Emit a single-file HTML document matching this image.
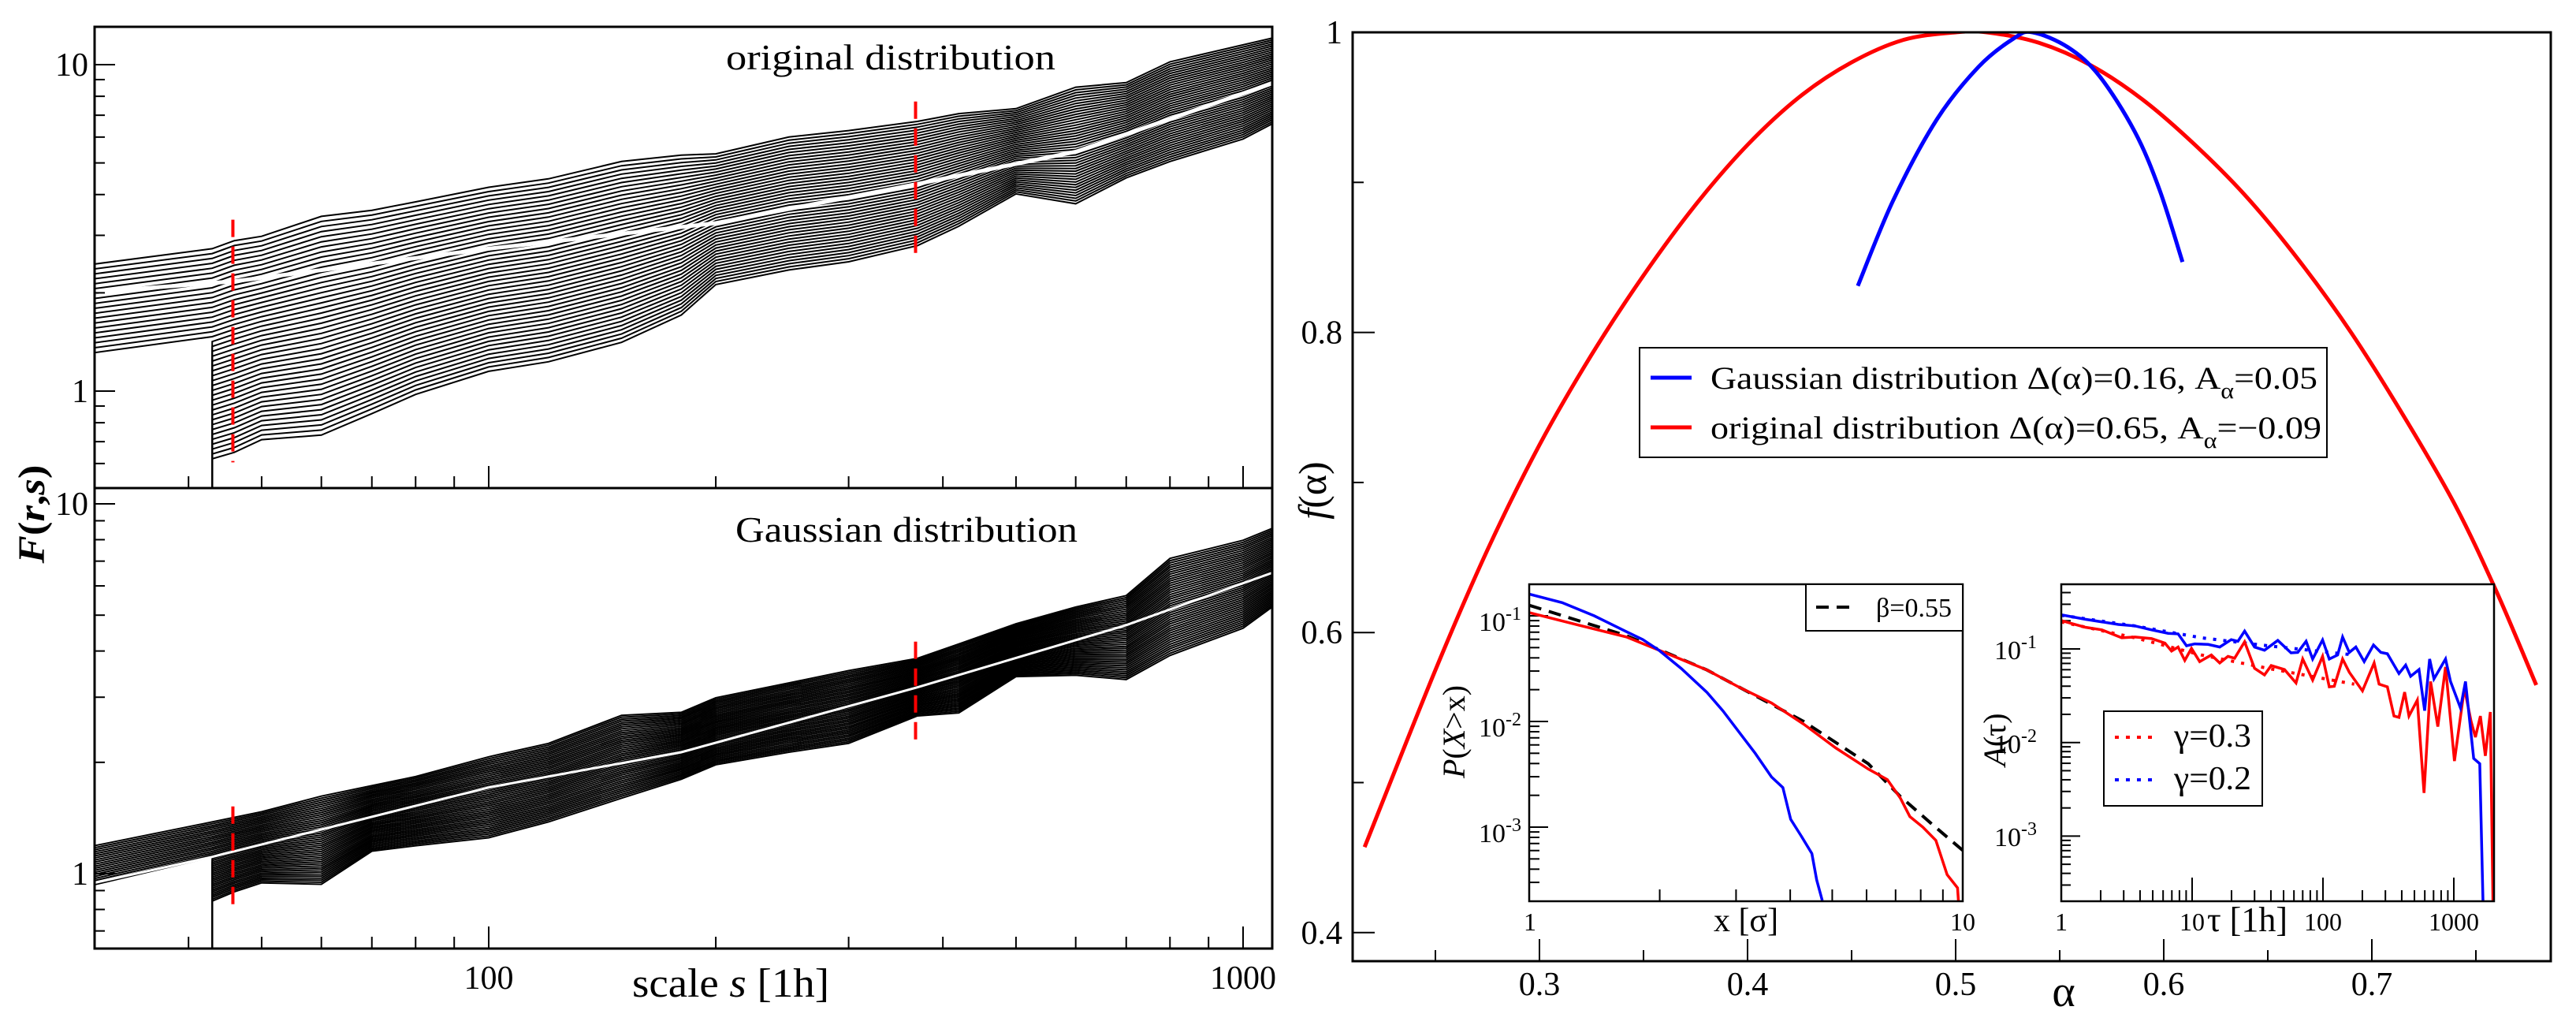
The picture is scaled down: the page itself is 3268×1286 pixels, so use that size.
<!DOCTYPE html>
<html><head><meta charset="utf-8">
<style>
html,body{margin:0;padding:0;background:#fff;}
svg{display:block;font-family:"Liberation Serif",serif;}
</style></head>
<body>
<svg id="fig" xmlns="http://www.w3.org/2000/svg" width="3268" height="1286" viewBox="0 0 3268 1286">
<rect x="0" y="0" width="3268" height="1286" fill="#fff"/>
<defs>
<clipPath id="clipTop"><rect x="120" y="34" width="1494" height="585"/></clipPath>
<clipPath id="clipBot"><rect x="120" y="619" width="1494" height="584"/></clipPath>
<clipPath id="clipMain"><rect x="1716" y="41" width="1520" height="1178"/></clipPath>
<clipPath id="clipIn1"><rect x="1940" y="741" width="550" height="402"/></clipPath>
<clipPath id="clipIn2"><rect x="2615" y="741" width="549" height="402"/></clipPath>
</defs>
<g id="layer"></g>
</svg>
<script>
// ===== Left panels (F(r,s) vs scale s) =====
const sGrid = [30,43,46,50,60,70,80,100,120,150,180,200,250,300,370,420,500,600,700,800,1000,1100];
const topEnvOrig = [2.45,2.73,2.89,2.98,3.43,3.58,3.80,4.21,4.47,5.05,5.28,5.33,6.0,6.28,6.70,7.08,7.33,8.53,8.81,10.2,11.5,12.1];
const botEnvOrig = [0.55,0.62,0.649,0.71,0.733,0.853,0.977,1.15,1.23,1.41,1.71,2.12,2.35,2.49,2.79,3.2,4.02,3.75,4.5,5.05,5.92,6.64];
const medSOrig = [30,46,100,200,370,600,1100];
const medOrig = [2.01,2.17,2.73,3.27,4.31,5.41,8.81];
const topEnvGauss = [1.19,1.38,1.42,1.47,1.62,1.73,1.83,2.07,2.25,2.68,2.73,2.99,3.28,3.54,3.82,4.18,4.74,5.26,5.65,7.12,7.97,8.63];
const botEnvGauss = [0.686,0.843,0.893,0.944,0.936,1.15,1.19,1.25,1.38,1.60,1.80,1.97,2.13,2.25,2.67,2.72,3.41,3.44,3.35,3.89,4.61,5.31];
const medSGauss = [30,43,100,180,370,700,1100];
const medGauss = [0.944,1.11,1.71,2.13,3.19,4.70,6.54];
const cutS = [45.8,368];
const cutOrigLo = [0.605,2.61], cutOrigHi = [3.35,7.71];
const cutGaussLo = [0.82,2.29], cutGaussHi = [1.52,4.24];

// ===== Right panel f(alpha) =====
const alphaRed = [0.216,0.25,0.275,0.30,0.325,0.35,0.375,0.40,0.425,0.45,0.475,0.50,0.515,0.54,0.565,0.59,0.615,0.64,0.665,0.69,0.715,0.74,0.76,0.779];
const fRed     = [0.457,0.575,0.655,0.725,0.785,0.838,0.885,0.925,0.957,0.980,0.995,1.0,1.0,0.993,0.978,0.955,0.925,0.89,0.848,0.80,0.745,0.685,0.627,0.565];
const alphaBlue = [0.453,0.470,0.491,0.511,0.528,0.537,0.554,0.569,0.586,0.598,0.609];
const fBlue     = [0.831,0.888,0.942,0.977,0.996,1.0,0.990,0.971,0.934,0.895,0.847];
const alphaTicks = [0.3,0.4,0.5,0.6,0.7];
const fTicks = [0.4,0.6,0.8,1];

// ===== Inset 1: P(X>x) (log10 values) =====
const logX_blue = [0,0.076,0.150,0.224,0.262,0.299,0.351,0.410,0.447,0.484,0.521,0.559,0.585,0.603,0.626,0.652,0.663,0.676];
const logP_blue = [-0.795,-0.875,-1.0,-1.15,-1.225,-1.325,-1.50,-1.725,-1.90,-2.10,-2.30,-2.525,-2.625,-2.925,-3.075,-3.25,-3.50,-3.695];
const logX_red = [0,0.113,0.224,0.299,0.410,0.484,0.559,0.633,0.707,0.782,0.826,0.856,0.878,0.908,0.938,0.964,0.988,0.990];
const logP_red = [-0.97,-1.0875,-1.2,-1.325,-1.5125,-1.675,-1.825,-2.025,-2.25,-2.45,-2.55,-2.725,-2.90,-3.0,-3.125,-3.45,-3.575,-3.695];
const logX_fit = [0,0.224,0.410,0.633,0.782,0.856,0.930,1.0];
const logP_fit = [-0.9,-1.1875,-1.5125,-2.0,-2.40,-2.71,-2.975,-3.22];

// ===== Inset 2: A(tau) (log10 values) =====
const logT_blue = [0,0.183,0.437,0.563,0.690,0.817,0.893,0.957,1.020,1.122,1.211,1.299,1.350,1.401,1.477,1.553,1.655,1.756,1.807,1.871,1.921,1.997,2.048,2.112,2.150,2.201,2.251,2.315,2.386,2.442,2.492,2.581,2.632,2.670,2.734,2.777,2.815,2.848,2.937,2.975,3.051,3.089,3.152,3.198,3.223];
const logA_blue = [-0.635,-0.683,-0.739,-0.754,-0.796,-0.833,-0.839,-0.966,-0.946,-0.952,-0.980,-0.901,-0.918,-0.810,-0.980,-1.014,-0.909,-1.042,-1.037,-0.918,-1.108,-0.904,-1.108,-1.065,-0.873,-1.037,-0.980,-1.136,-0.958,-1.037,-1.051,-1.263,-1.173,-1.292,-1.221,-1.660,-1.108,-1.320,-1.108,-1.348,-1.632,-1.348,-2.170,-2.227,-3.694];
const logT_red = [0,0.183,0.310,0.462,0.563,0.690,0.792,0.843,0.893,0.944,0.995,1.058,1.147,1.211,1.274,1.325,1.401,1.477,1.553,1.604,1.706,1.794,1.845,1.921,1.997,2.048,2.086,2.150,2.201,2.302,2.391,2.429,2.492,2.543,2.581,2.624,2.657,2.721,2.772,2.822,2.878,2.937,3.005,3.081,3.132,3.165,3.203,3.241,3.279,3.299];
const logA_red = [-0.697,-0.768,-0.796,-0.881,-0.873,-0.890,-0.938,-1.023,-0.980,-1.122,-0.994,-1.136,-1.065,-1.150,-1.079,-1.099,-0.924,-1.207,-1.278,-1.178,-1.221,-1.363,-1.108,-1.334,-1.079,-1.405,-1.399,-1.108,-1.249,-1.448,-1.150,-1.377,-1.405,-1.717,-1.731,-1.462,-1.717,-1.547,-2.538,-1.348,-1.830,-1.193,-2.198,-1.419,-1.773,-1.943,-1.717,-2.142,-1.674,-3.694];
const logT_fit = [0,0.563,1.071,1.579,2.239];
const logA_fitRed = [-0.711,-0.881,-1.065,-1.207,-1.377];
const logA_fitBlue = [-0.640,-0.754,-0.881,-0.966,-1.065];

const NS = "http://www.w3.org/2000/svg";
const layer = document.getElementById('layer');
function mk(tag, attrs, parent){ const e=document.createElementNS(NS,tag); for(const k in attrs) e.setAttribute(k,attrs[k]); (parent||layer).appendChild(e); return e; }
const L10 = Math.log10;

// axis functions
const sx = s => 620 + (L10(s)-2)*957;
const fyTop = F => 496 - L10(F)*414;
const fyBot = F => 1108 - L10(F)*469;
const ax = a => 1953 + (a-0.3)*2640;
const ay = f => 41 + (1-f)*1903;
const i1x = lx => 1940 + lx*550;
const i1y = lp => 781 - (lp+1)*134;
const i2x = lt => 2615 + lt*166;
const i2y = la => 823 - (la+1)*118.7;

function poly(pts){ return pts.map((p,i)=>(i?'L':'M')+p[0].toFixed(1)+' '+p[1].toFixed(1)).join(''); }
function smooth(pts){
  let d='M'+pts[0][0].toFixed(1)+' '+pts[0][1].toFixed(1);
  for(let i=0;i<pts.length-1;i++){
    const p0=pts[Math.max(0,i-1)],p1=pts[i],p2=pts[i+1],p3=pts[Math.min(pts.length-1,i+2)];
    const c1=[p1[0]+(p2[0]-p0[0])/6,p1[1]+(p2[1]-p0[1])/6], c2=[p2[0]-(p3[0]-p1[0])/6,p2[1]-(p3[1]-p1[1])/6];
    d+='C'+c1[0].toFixed(1)+' '+c1[1].toFixed(1)+' '+c2[0].toFixed(1)+' '+c2[1].toFixed(1)+' '+p2[0].toFixed(1)+' '+p2[1].toFixed(1);
  }
  return d;
}
function txt(x,y,str,size,attrs,parent){ const t=mk('text',Object.assign({x:x,y:y,'font-size':size},attrs||{}),parent); t.textContent=str; return t; }

// ---------- Left panels ----------
function drawFamily(g, topEnv, botEnv, fy, tA, bottomY, N){
  for(let i=0;i<N;i++){
    const t=i/(N-1);
    const pts=[];
    const startIdx = t<=tA ? 0 : 1;
    if(startIdx===1) pts.push([sx(sGrid[1]), bottomY+20]);
    for(let k=startIdx;k<sGrid.length;k++){
      const lv = L10(topEnv[k])*(1-t)+L10(botEnv[k])*t;
      pts.push([sx(sGrid[k]), fy(Math.pow(10,lv))]);
    }
    const p=mk('path',{d:poly(pts),fill:'none',stroke:'#000','stroke-width':2},g);
    
    
  }
}
function drawLeftPanel(name, y0, y1, fy, topEnv, botEnv, medS, med, tA, medW, clip, cutLo, cutHi, title, titleLen){
  const g=mk('g',{'clip-path':'url(#'+clip+')'});
  
  
  drawFamily(g, topEnv, botEnv, fy, tA, y1, 44);
  const m=mk('path',{d:poly(medS.map((s,i)=>[sx(s),fy(med[i])])),fill:'none',stroke:'#fff','stroke-width':medW},g);
  
  
  for(let j=0;j<cutS.length;j++){
    const c=mk('line',{x1:sx(cutS[j]),x2:sx(cutS[j]),y1:fy(cutHi[j]),y2:fy(cutLo[j]),stroke:'#f00','stroke-width':4,'stroke-dasharray':'22 12'},g);
    
    
  }
  const tg=mk('g',{stroke:'#000','stroke-width':2});
  
  
  for(let d=-1; d<=1; d++){
    for(let k=1;k<=9;k++){
      const v=k*Math.pow(10,d); const y=fy(v);
      if(y<y0+1||y>y1-1) continue;
      const len = k===1?26:13;
      mk('line',{x1:120,x2:120+len,y1:y,y2:y},tg);
    }
  }
  for(let d=1; d<=3; d++){
    for(let k=1;k<=9;k++){
      const v=k*Math.pow(10,d); const x=sx(v);
      if(x<121||x>1613) continue;
      const len = k===1?28:15;
      mk('line',{x1:x,x2:x,y1:y1,y2:y1-len},tg);
    }
  }
  const fr=mk('rect',{x:120,y:y0,width:1494,height:y1-y0,fill:'none',stroke:'#000','stroke-width':3});
  
  
  [[10,'10'],[1,'1']].forEach(([v,s])=>{
    const t=txt(112,fy(v)+14,s,42,{'text-anchor':'end'});
    
    
  });
  const tt=txt(title[1],title[2],title[0],46,{textLength:titleLen,lengthAdjust:'spacingAndGlyphs'});
  
  
}
drawLeftPanel('original-panel',34,619,fyTop,topEnvOrig,botEnvOrig,medSOrig,medOrig,0.42,5,'clipTop',cutOrigLo,cutOrigHi,['original distribution',921,88],418);
drawLeftPanel('gaussian-panel',619,1203,fyBot,topEnvGauss,botEnvGauss,medSGauss,medGauss,0.45,3,'clipBot',cutGaussLo,cutGaussHi,['Gaussian distribution',933,687],434);

[[100,'100'],[1000,'1000']].forEach(([v,s])=>{
  const t=txt(sx(v),1254,s,42,{'text-anchor':'middle'});
  
  
});
{
  const t=mk('text',{x:802,y:1264,'font-size':52,textLength:250,lengthAdjust:'spacingAndGlyphs'});
  t.innerHTML='scale <tspan font-style="italic">s</tspan> [1h]';
  
  
  const y=mk('text',{x:0,y:0,'font-size':48,'font-weight':'bold',transform:'translate(56,652) rotate(-90)','text-anchor':'middle',textLength:125,lengthAdjust:'spacingAndGlyphs'});
  y.innerHTML='<tspan font-style="italic">F</tspan>(<tspan font-style="italic">r</tspan>,<tspan font-style="italic">s</tspan>)';
  
  
}

// ---------- Right main panel ----------
{
  const tg=mk('g',{stroke:'#000','stroke-width':2});
  
  
  for(let a=0.25;a<0.78;a+=0.05){
    const major=Math.abs(Math.round(a*10)-a*10)<1e-6;
    mk('line',{x1:ax(a),x2:ax(a),y1:1219,y2:1219-(major?28:14)},tg);
  }
  for(let f=0.4;f<=1.0001;f+=0.1){
    const major=Math.abs(Math.round(f*5)-f*5)<1e-6;
    mk('line',{x1:1716,x2:1716+(major?28:14),y1:ay(f),y2:ay(f)},tg);
  }
  alphaTicks.forEach(a=>{
    const t=txt(ax(a),1262,a.toFixed(1),42,{'text-anchor':'middle'});
    
    
  });
  fTicks.forEach(f=>{
    const t=txt(1703,ay(f)+14,f===1?'1':f.toFixed(1),42,{'text-anchor':'end'});
    
    
  });
  const g=mk('g',{'clip-path':'url(#clipMain)'});
  const r=mk('path',{d:smooth(alphaRed.map((a,i)=>[ax(a),ay(fRed[i])])),fill:'none',stroke:'#f00','stroke-width':5},g);
  
  
  const b=mk('path',{d:smooth(alphaBlue.map((a,i)=>[ax(a),ay(fBlue[i])])),fill:'none',stroke:'#00f','stroke-width':5},g);
  
  
  const fr=mk('rect',{x:1716,y:41,width:1520,height:1178,fill:'none',stroke:'#000','stroke-width':3});
  
  
  const xl=txt(2618,1276,'α',56,{'text-anchor':'middle'});
  
  
  const yl=mk('text',{x:0,y:0,'font-size':50,transform:'translate(1682,622) rotate(-90)','text-anchor':'middle'});
  yl.innerHTML='<tspan font-style="italic">f</tspan>(α)';
  
  
  const lg=mk('g',{});
  
  
  mk('rect',{x:2080,y:441,width:872,height:139,fill:'#fff',stroke:'#000','stroke-width':2},lg);
  mk('line',{x1:2094,x2:2146,y1:479,y2:479,stroke:'#00f','stroke-width':5},lg);
  mk('line',{x1:2094,x2:2146,y1:542,y2:542,stroke:'#f00','stroke-width':5},lg);
  const t1=mk('text',{x:2170,y:493,'font-size':40,textLength:770,lengthAdjust:'spacingAndGlyphs'},lg);
  t1.innerHTML='Gaussian distribution Δ(α)=0.16, A<tspan font-size="28" dy="12">α</tspan><tspan dy="-12">=0.05</tspan>';
  
  
  const t2=mk('text',{x:2170,y:556,'font-size':40,textLength:775,lengthAdjust:'spacingAndGlyphs'},lg);
  t2.innerHTML='original distribution Δ(α)=0.65, A<tspan font-size="28" dy="12">α</tspan><tspan dy="-12">=−0.09</tspan>';
  
  
}

function expLabel(x,y,exp,name){
  const t=mk('text',{x:x,y:y,'font-size':34,'text-anchor':'end'});
  t.innerHTML='10<tspan font-size="24" dy="-14">'+exp+'</tspan>';
  
  
}

// ---------- Inset 1 ----------
{
  mk('rect',{x:1940,y:741,width:550,height:402,fill:'#fff'});
  const tg=mk('g',{stroke:'#000','stroke-width':2});
  
  
  for(let d=-4;d<=-1;d++) for(let k=1;k<=9;k++){
    const lp=d+L10(k); const y=i1y(lp); if(y<742||y>1142) continue;
    mk('line',{x1:1940,x2:1940+(k===1?24:13),y1:y,y2:y},tg);
  }
  for(let k=2;k<=9;k++){ const x=i1x(L10(k)); mk('line',{x1:x,x2:x,y1:1143,y2:1128},tg); }
  const g=mk('g',{'clip-path':'url(#clipIn1)'});
  const fit=mk('path',{d:poly(logX_fit.map((v,i)=>[i1x(v),i1y(logP_fit[i])])),fill:'none',stroke:'#000','stroke-width':4,'stroke-dasharray':'16 10'},g);
  
  
  const r=mk('path',{d:poly(logX_red.map((v,i)=>[i1x(v),i1y(logP_red[i])])),fill:'none',stroke:'#f00','stroke-width':3.5},g);
  
  
  const b=mk('path',{d:poly(logX_blue.map((v,i)=>[i1x(v),i1y(logP_blue[i])])),fill:'none',stroke:'#00f','stroke-width':3.5},g);
  
  
  const fr=mk('rect',{x:1940,y:741,width:550,height:402,fill:'none',stroke:'#000','stroke-width':2.5});
  
  
  const lg=mk('g',{});
  
  
  mk('rect',{x:2291,y:741,width:199,height:59,fill:'#fff',stroke:'#000','stroke-width':2},lg);
  mk('line',{x1:2304,x2:2356,y1:770,y2:770,stroke:'#000','stroke-width':4,'stroke-dasharray':'16 10'},lg);
  const lt=txt(2380,782,'β=0.55',34,{textLength:96,lengthAdjust:'spacingAndGlyphs'},lg);
  
  
  expLabel(1930,800,'-1','cdf-y-tick-label');
  expLabel(1930,934,'-2','cdf-y-tick-label');
  expLabel(1930,1068,'-3','cdf-y-tick-label');
  const a=txt(1941,1180,'1',32,{'text-anchor':'middle'});  
  const b2=txt(2490,1180,'10',32,{'text-anchor':'middle'});  
  const xl=txt(2215,1181,'x [σ]',42,{'text-anchor':'middle'});  
  const yl=mk('text',{x:0,y:0,'font-size':40,transform:'translate(1858,928) rotate(-90)','text-anchor':'middle'});
  yl.innerHTML='<tspan font-style="italic">P</tspan>(<tspan font-style="italic">X</tspan>&gt;x)';
  
  
}

// ---------- Inset 2 ----------
{
  mk('rect',{x:2615,y:741,width:549,height:402,fill:'#fff'});
  const tg=mk('g',{stroke:'#000','stroke-width':2});
  
  
  for(let d=-4;d<=0;d++) for(let k=1;k<=9;k++){
    const la=d+L10(k); const y=i2y(la); if(y<742||y>1142) continue;
    mk('line',{x1:2615,x2:2615+(k===1?24:12),y1:y,y2:y},tg);
  }
  for(let d=0;d<=3;d++) for(let k=1;k<=9;k++){
    const lt=d+L10(k); const x=i2x(lt); if(x<2616||x>3163) continue;
    mk('line',{x1:x,x2:x,y1:1143,y2:1143-(k===1?30:14)},tg);
  }
  const g=mk('g',{'clip-path':'url(#clipIn2)'});
  const rf=mk('path',{d:poly(logT_fit.map((v,i)=>[i2x(v),i2y(logA_fitRed[i])])),fill:'none',stroke:'#f00','stroke-width':4,'stroke-dasharray':'4 9'},g);
  
  
  const bf=mk('path',{d:poly(logT_fit.map((v,i)=>[i2x(v),i2y(logA_fitBlue[i])])),fill:'none',stroke:'#00f','stroke-width':4,'stroke-dasharray':'4 9'},g);
  
  
  const r=mk('path',{d:poly(logT_red.map((v,i)=>[i2x(v),i2y(logA_red[i])])),fill:'none',stroke:'#f00','stroke-width':3.5},g);
  
  
  const b=mk('path',{d:poly(logT_blue.map((v,i)=>[i2x(v),i2y(logA_blue[i])])),fill:'none',stroke:'#00f','stroke-width':3.5},g);
  
  
  const fr=mk('rect',{x:2615,y:741,width:549,height:402,fill:'none',stroke:'#000','stroke-width':2.5});
  
  
  const lg=mk('g',{});
  
  
  mk('rect',{x:2669,y:902,width:201,height:120,fill:'#fff',stroke:'#000','stroke-width':2},lg);
  mk('line',{x1:2683,x2:2735,y1:935,y2:935,stroke:'#f00','stroke-width':4,'stroke-dasharray':'5 9'},lg);
  mk('line',{x1:2683,x2:2735,y1:989,y2:989,stroke:'#00f','stroke-width':4,'stroke-dasharray':'5 9'},lg);
  const l1=txt(2758,947,'γ=0.3',42,{textLength:98,lengthAdjust:'spacingAndGlyphs'},lg);
   
  const l2=txt(2758,1001,'γ=0.2',42,{textLength:98,lengthAdjust:'spacingAndGlyphs'},lg);
   
  expLabel(2584,836,'-1','autocorr-y-tick-label');
  expLabel(2584,955,'-2','autocorr-y-tick-label');
  expLabel(2584,1073,'-3','autocorr-y-tick-label');
  [[0,'1'],[1,'10'],[2,'100'],[3,'1000']].forEach(([lt,s])=>{
    const t=txt(i2x(lt),1180,s,32,{'text-anchor':'middle'});
     
  });
  const xl=txt(2800,1181,'τ  [1h]',44,{'xml:space':'preserve'});
   
  const yl=mk('text',{x:0,y:0,'font-size':40,transform:'translate(2544,938) rotate(-90)','text-anchor':'middle'});
  yl.innerHTML='<tspan font-style="italic">A</tspan>(τ)';
  
  
}
</script>
</body></html>
